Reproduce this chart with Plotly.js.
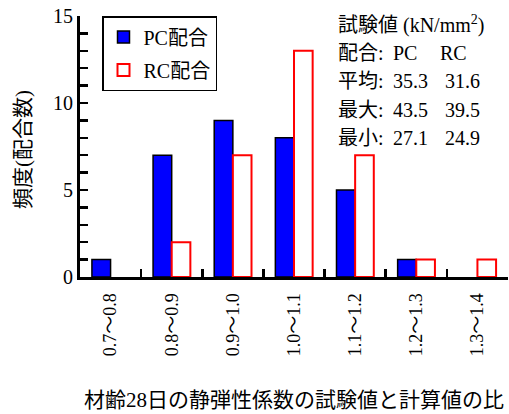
<!DOCTYPE html>
<html><head><meta charset="utf-8">
<script src="https://cdn.plot.ly/plotly-3.0.1.min.js"></script>
<style>body{margin:0;padding:0;background:#fff}#c{width:509px;height:414px}</style>
</head><body><div id="c"></div>
<script>
const categories = ['0.7～0.8','0.8～0.9','0.9～1.0','1.0～1.1','1.1～1.2','1.2～1.3','1.3～1.4'];
const pcCounts = [1, 7, 9, 8, 5, 1, 0];
const rcCounts = [0, 2, 7, 13, 7, 1, 1];
const statHeader = ['配合', 'PC', 'RC'];
const statLabels = ['平均', '最大', '最小'];
const pcStats = ['35.3', '43.5', '27.1'];
const rcStats = ['31.6', '39.5', '24.9'];

const FONT = 'Liberation Serif, Times New Roman, Noto Sans CJK JP, serif';
const W = 509, H = 414, L = 80, R = 1, T = 16, B = 137;
const pw = W - L - R, ph = H - T - B;
const px = x => (x - L) / pw;
const py = y => (H - B - y) / ph;
const hideZero = a => a.map(v => v === 0 ? null : v);

const traces = [
  {type:'bar', name:'PC配合', x:categories, y:hideZero(pcCounts), legendgroup:'a',
   marker:{color:'#0000ff', line:{color:'#000', width:1.5}}},
  {type:'bar', name:'RC配合', x:categories, y:hideZero(rcCounts), legendgroup:'b',
   marker:{color:'#ffffff', line:{color:'#ff0000', width:2}}}
];

const ann = [];
function txt(t, x, y) {
  ann.push({text:t, xref:'paper', yref:'paper', x:px(x), y:py(y), xanchor:'left', yanchor:'middle',
    showarrow:false, font:{family:FONT, size:20, color:'#000'}});
}
txt('試験値 (kN/mm<sup>2</sup>)', 336, 25);
txt(statHeader[0] + ':', 336, 53);
txt(statHeader[1], 391, 53);
txt(statHeader[2], 438, 53);
const rowsY = [81, 110, 138];
statLabels.forEach((s, i) => {
  txt(s + ':', 336, rowsY[i]);
  txt(pcStats[i], 391, rowsY[i]);
  txt(rcStats[i], 443, rowsY[i]);
});
ann.push({text:'頻度(配合数)', xref:'paper', yref:'paper', x:px(23), y:py(150), xanchor:'center', yanchor:'middle',
  textangle:-90, showarrow:false, font:{family:FONT, size:21, color:'#000'}});

const layout = {
  width:W, height:H, margin:{l:L, r:R, t:T, b:B, pad:0},
  paper_bgcolor:'#fff', plot_bgcolor:'#fff',
  font:{family:FONT, size:20, color:'#000'},
  barmode:'group', bargap:0.39, bargroupgap:0,
  showlegend:true,
  legend:{x:px(102), y:1.0, xanchor:'left', yanchor:'top', bordercolor:'#000', borderwidth:1.5,
    bgcolor:'#fff', font:{family:FONT, size:20}, traceorder:'grouped', tracegroupgap:4},
  xaxis:{type:'category', showline:true, linewidth:3, linecolor:'#000', ticks:'inside', tickson:'boundaries',
    ticklen:8, tickwidth:2.5, tickcolor:'#000', tickangle:-90, showgrid:false, zeroline:false,
    tickfont:{family:FONT, size:18}, ticklabelstandoff:6,
    title:{text:'材齢28日の静弾性係数の試験値と計算値の比', font:{family:FONT, size:21}, standoff:38}},
  yaxis:{range:[0,15], dtick:5, showline:true, linewidth:3, linecolor:'#000', ticks:'inside',
    ticklen:8, tickwidth:2.5, tickcolor:'#000', showgrid:false, zeroline:false,
    tickfont:{family:FONT, size:20},
    minor:{dtick:1, ticks:'inside', ticklen:8, tickwidth:2.5, tickcolor:'#000', showgrid:false}},
  annotations:ann
};
Plotly.newPlot('c', traces, layout, {staticPlot:true, displayModeBar:false});
</script></body></html>
